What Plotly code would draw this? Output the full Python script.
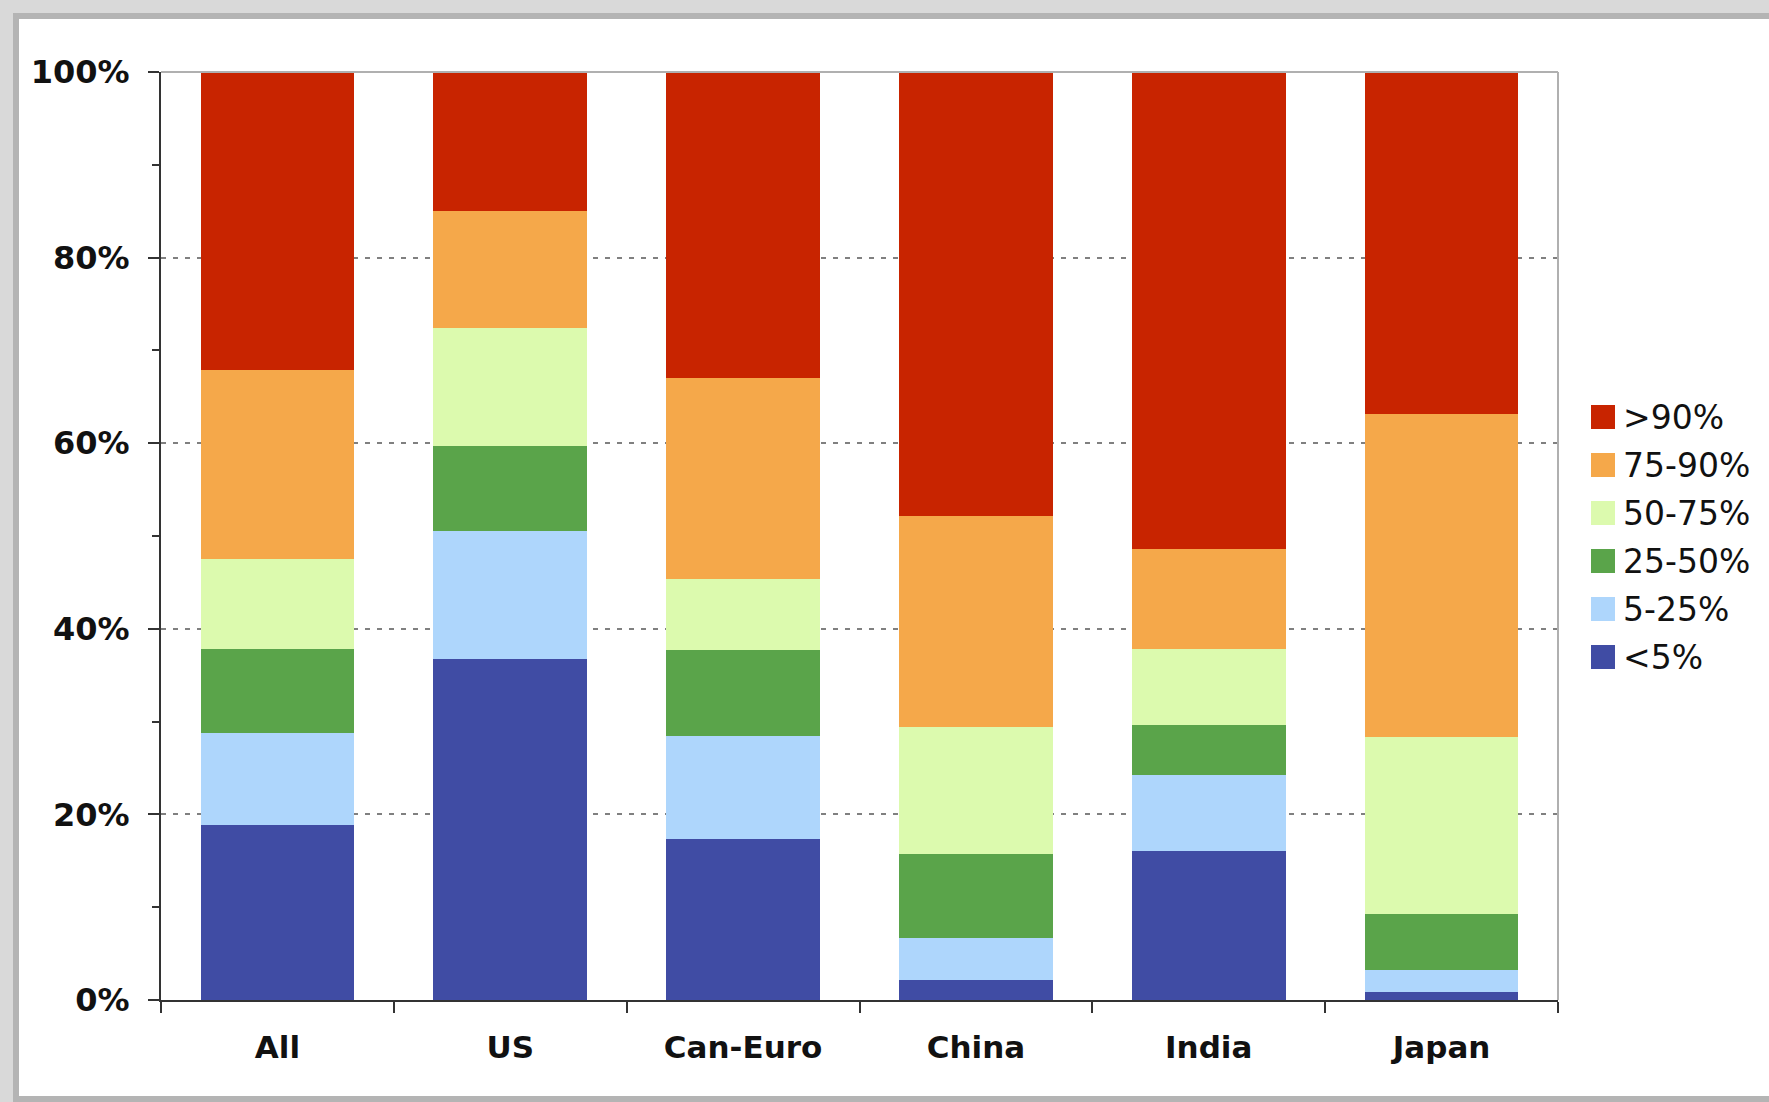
import plotly.graph_objects as go

# ---------------- data ----------------
categories = ["All", "US", "Can-Euro", "China", "India", "Japan"]
series_names = [">90%", "75-90%", "50-75%", "25-50%", "5-25%", "<5%"]

lt5 = [18.9, 36.7, 17.4, 2.2, 16.1, 0.9]
p5_25 = [9.9, 13.8, 11.1, 4.5, 8.2, 2.3]
p25_50 = [9.0, 9.2, 9.2, 9.0, 5.3, 6.1]
p50_75 = [9.7, 12.7, 7.7, 13.7, 8.2, 19.0]
p75_90 = [20.4, 12.6, 21.6, 22.8, 10.8, 34.8]
gt90 = [32.1, 15.0, 33.0, 47.8, 51.4, 36.9]

y_ticks = [0, 20, 40, 60, 80, 100]
y_tick_labels = ["0%", "20%", "40%", "60%", "80%", "100%"]

colors = {
    "<5%": "#404CA4",
    "5-25%": "#AED6FC",
    "25-50%": "#5AA44A",
    "50-75%": "#DCFAAE",
    "75-90%": "#F5A84A",
    ">90%": "#C82400",
}

stack_order = [("<5%", lt5), ("5-25%", p5_25), ("25-50%", p25_50),
               ("50-75%", p50_75), ("75-90%", p75_90), (">90%", gt90)]

W, H = 1769, 1102
L, R, T, B = 161, 1558, 72, 1000


def px(x):
    return (x - L) / (R - L)


def py(y):
    return (B - y) / (B - T)


fig = go.Figure()
for name, vals in stack_order:
    fig.add_trace(go.Bar(
        x=categories, y=vals, name=name,
        marker=dict(color=colors[name], line=dict(width=0)),
        showlegend=False,
    ))

shapes = []
# outer frame (white card with gray border)
shapes.append(dict(type="rect", xref="paper", yref="paper",
                   x0=px(16), x1=px(1800), y0=py(1099), y1=py(16),
                   fillcolor="white", line=dict(color="#b4b4b4", width=6),
                   layer="below"))
# plot area top & right border
shapes.append(dict(type="line", xref="paper", yref="paper",
                   x0=0, x1=1, y0=1, y1=1,
                   line=dict(color="#b0b0b0", width=2), layer="above"))
shapes.append(dict(type="line", xref="paper", yref="paper",
                   x0=1, x1=1, y0=0, y1=1,
                   line=dict(color="#b0b0b0", width=2), layer="above"))

annotations = []
leg_y0, leg_dy = 417, 48
for i, name in enumerate(series_names):
    cy = leg_y0 + leg_dy * i
    shapes.append(dict(type="rect", xref="paper", yref="paper",
                       x0=px(1591), x1=px(1615), y0=py(cy + 12), y1=py(cy - 12),
                       fillcolor=colors[name], line=dict(width=0)))
    annotations.append(dict(xref="paper", yref="paper", x=px(1621), y=py(cy),
                            text=name, showarrow=False, xanchor="left",
                            yanchor="middle",
                            font=dict(family="DejaVu Sans", size=33, color="#111111")))

fig.update_layout(
    width=W, height=H,
    margin=dict(l=L, r=W - R, t=T, b=H - B, pad=0),
    paper_bgcolor="#d9d9d9",
    plot_bgcolor="white",
    barmode="stack",
    bargap=0.34,
    shapes=shapes,
    annotations=annotations,
    showlegend=False,
)

fig.update_xaxes(
    showline=True, linecolor="#333333", linewidth=2,
    ticks="outside", ticklen=11, tickwidth=2, tickcolor="#333333",
    tickson="boundaries",
    tickfont=dict(family="DejaVu Sans", size=31, color="#111111", weight="bold"),
    ticklabelstandoff=19,
    showgrid=False,
)
fig.update_yaxes(
    range=[0, 100],
    tickmode="array",
    tickvals=y_ticks,
    ticktext=y_tick_labels,
    showline=True, linecolor="#333333", linewidth=2,
    ticks="outside", ticklen=11, tickwidth=2, tickcolor="#333333",
    tickfont=dict(family="DejaVu Sans", size=32, color="#111111", weight="bold"),
    ticklabelstandoff=12,
    showgrid=True, gridcolor="#808080", gridwidth=2, griddash="5px,7px",
    zeroline=False,
    minor=dict(dtick=10, ticks="outside", ticklen=7, tickwidth=2,
               tickcolor="#333333", showgrid=False),
)

fig.write_html("out.html")
